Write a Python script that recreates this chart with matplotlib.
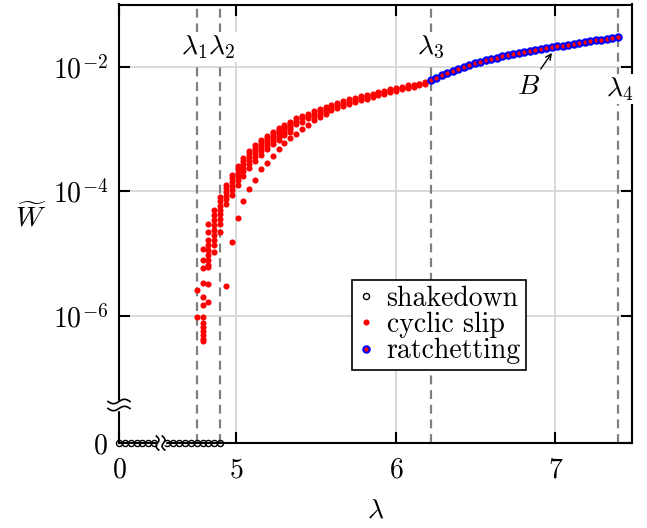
import numpy as np
import matplotlib
matplotlib.use("Agg")
import matplotlib.pyplot as plt
from matplotlib.lines import Line2D
from matplotlib.ticker import FixedLocator, FixedFormatter, NullLocator

plt.rcParams.update({
    "font.family": "serif",
    "font.serif": ["cmr10"],
    "mathtext.fontset": "cm",
    "axes.formatter.use_mathtext": True,
    "font.size": 20,
})

# ---------------- data ----------------
shake_lam = [0.0, 0.0368, 0.0735, 0.1103, 0.147, 0.1838, 0.2205,
             4.566, 4.603, 4.640, 4.677, 4.713, 4.750, 4.787, 4.824, 4.860, 4.897]
shake_W = [0.0] * len(shake_lam)

slip_lam = [4.750, 4.787, 4.824, 4.860, 4.897, 4.934, 4.971, 5.007, 5.044, 5.081,
            5.118, 5.154, 5.191, 5.228, 5.265, 5.301, 5.338, 5.375, 5.412, 5.448,
            5.485, 5.522, 5.559, 5.595, 5.632, 5.669, 5.706, 5.742, 5.779, 5.816,
            5.853, 5.889, 5.926, 5.963, 6.000, 6.036, 6.073, 6.110, 6.147, 6.183]

slip_log10W = [
    [-5.58, -6.02],
    [-4.92, -5.10, -5.23, -5.47, -5.69, -5.82, -6.01, -6.11, -6.17, -6.24, -6.30, -6.37, -6.41],
    [-4.52, -4.66, -4.78, -4.86, -4.94, -5.02, -5.10, -5.18, -5.21, -5.48, -5.77],
    [-4.30, -4.38, -4.46, -4.54, -4.62, -4.70, -4.78, -4.86, -4.97],
    [-4.09, -4.16, -4.23, -4.30, -4.37, -4.44, -4.52, -4.65],
    [-3.89, -3.95, -4.01, -4.07, -4.13, -4.20, -5.52],
    [-3.73, -3.79, -3.85, -3.91, -3.98, -4.06, -4.81],
    [-3.59, -3.64, -3.70, -3.76, -3.82, -3.90, -4.42],
    [-3.46, -3.51, -3.56, -3.62, -3.68, -3.76, -4.15],
    [-3.35, -3.40, -3.45, -3.50, -3.56, -3.63, -3.96],
    [-3.25, -3.30, -3.34, -3.39, -3.45, -3.51, -3.81],
    [-3.17, -3.21, -3.25, -3.30, -3.35, -3.41, -3.64],
    [-3.11, -3.14, -3.18, -3.22, -3.27, -3.32, -3.54],
    [-3.04, -3.07, -3.11, -3.15, -3.19, -3.24, -3.43],
    [-2.98, -3.01, -3.05, -3.08, -3.12, -3.17, -3.32],
    [-2.93, -2.96, -2.99, -3.02, -3.06, -3.10, -3.22],
    [-2.88, -2.91, -2.94, -2.97, -3.00, -3.04, -3.15],
    [-2.83, -2.87, -2.92, -3.08],
    [-2.79, -2.83, -2.88, -3.00],
    [-2.75, -2.79, -2.83, -2.93],
    [-2.71, -2.75, -2.79, -2.86],
    [-2.67, -2.71, -2.75, -2.80],
    [-2.64, -2.68, -2.72, -2.75],
    [-2.61, -2.65, -2.70],
    [-2.58, -2.62, -2.66],
    [-2.55, -2.59, -2.63],
    [-2.52, -2.56, -2.60],
    [-2.50, -2.53, -2.57],
    [-2.47, -2.50, -2.54],
    [-2.45, -2.48, -2.51],
    [-2.43, -2.46, -2.49],
    [-2.40, -2.43, -2.46],
    [-2.39, -2.41, -2.44],
    [-2.36, -2.38, -2.41],
    [-2.34, -2.36, -2.39],
    [-2.32, -2.34, -2.36],
    [-2.30, -2.32, -2.34],
    [-2.29, -2.30, -2.32],
    [-2.27, -2.28, -2.30],
    [-2.25, -2.26, -2.27],
]

ratch_lam = [6.220, 6.254, 6.289, 6.323, 6.358, 6.392, 6.426, 6.461, 6.495, 6.530,
             6.564, 6.598, 6.633, 6.667, 6.702, 6.736, 6.770, 6.805, 6.839, 6.874,
             6.908, 6.942, 6.977, 7.011, 7.046, 7.080, 7.114, 7.149, 7.183, 7.218,
             7.252, 7.286, 7.321, 7.355, 7.390]
ratch_log10W = [-2.210, -2.172, -2.134, -2.099, -2.064, -2.032, -2.002, -1.972, -1.946, -1.921,
                -1.898, -1.876, -1.853, -1.831, -1.811, -1.792, -1.773, -1.758, -1.743, -1.729,
                -1.716, -1.703, -1.690, -1.674, -1.659, -1.644, -1.631, -1.618, -1.605, -1.591,
                -1.577, -1.563, -1.548, -1.534, -1.520]

crit_lam = [4.750, 4.897, 6.220, 7.390]
crit_labels = [r"$\lambda_1$", r"$\lambda_2$", r"$\lambda_3$", r"$\lambda_4$"]

x_ticks = [0, 5, 6, 7]
x_ticklabels = [r"$0$", r"$5$", r"$6$", r"$7$"]
y_ticks = [0.0, 1e-6, 1e-4, 1e-2]
y_ticklabels = [r"$0$", r"$10^{-6}$", r"$10^{-4}$", r"$10^{-2}$"]

# flatten slip data
slip_x, slip_W = [], []
for lam, col in zip(slip_lam, slip_log10W):
    for v in col:
        slip_x.append(lam)
        slip_W.append(10.0 ** v)
ratch_W = [10.0 ** v for v in ratch_log10W]

# ---------------- broken scales ----------------
XB = [0.0, 0.235, 4.5, 10.0]
XF = [0.0, 0.235, 0.2366, 5.7366]
def xfwd(x):
    return np.interp(np.asarray(x, float), XB, XF)
def xinv(u):
    return np.interp(np.asarray(u, float), XF, XB)

Y0 = -8.04
def yfwd(y):
    y = np.asarray(y, float)
    safe = np.where(y > 0, y, 1.0)
    with np.errstate(divide="ignore", invalid="ignore"):
        return np.where(y > 10 ** Y0, np.log10(safe), Y0)
def yinv(v):
    return 10.0 ** np.asarray(v, float)

W, H = 647, 528
fig = plt.figure(figsize=(W / 100, H / 100), dpi=100)
L, R, T, B = 119, 632, 4.5, 443
ax = fig.add_axes([L / W, 1 - B / H, (R - L) / W, (B - T) / H])
ax.set_xscale("function", functions=(xfwd, xinv))
ax.set_yscale("function", functions=(yfwd, yinv))
ax.set_xlim(0, 7.48)
ax.set_ylim(0, 0.1)

ax.xaxis.set_major_locator(FixedLocator(x_ticks))
ax.xaxis.set_major_formatter(FixedFormatter(x_ticklabels))
ax.yaxis.set_major_locator(FixedLocator(y_ticks))
ax.yaxis.set_major_formatter(FixedFormatter(y_ticklabels))
ax.xaxis.set_minor_locator(NullLocator())
ax.yaxis.set_minor_locator(NullLocator())

for s in ax.spines.values():
    s.set_linewidth(1.5)
ax.tick_params(which="major", direction="in", length=8, width=1.5,
               top=True, right=True, labelsize=20)
ax.tick_params(axis="x", pad=10)
ax.tick_params(axis="y", pad=8)

ax.grid(True, color="#d9d9d9", lw=1.4, zorder=0)
ax.set_axisbelow(True)

# critical lines
for lam in crit_lam:
    ax.axvline(lam, color="#808080", lw=1.6, ls=(0, (4, 2.6)), zorder=1.5)

label_y = [0.903, 0.903, 0.903, 0.808]
label_dx = [-0.014, 0.012, 0.0, 0.01]
for lam, lab, yy, dx in zip(crit_lam, crit_labels, label_y, label_dx):
    ax.text(lam + dx, yy, lab, transform=ax.get_xaxis_transform(),
            ha="center", va="center", fontsize=20, zorder=5,
            bbox=dict(fc="white", ec="none", pad=0.8))

# data
h1, = ax.plot(shake_lam, shake_W, "o", mfc="none", mec="k", ms=4.4, mew=1.0,
              clip_on=False, zorder=4, label="shakedown")
h2, = ax.plot(slip_x, slip_W, "o", color="red", ms=4.4, mew=0, zorder=3,
              label="cyclic slip")
h3, = ax.plot(ratch_lam, ratch_W, "o", mfc="red", mec="blue", ms=4.6, mew=1.5,
              zorder=4, label="ratchetting")

# B annotation
B_tip = (6.978, 0.0167)
B_txt = (6.828, 0.0047)
ax.annotate(r"$B$", xy=B_tip, xytext=B_txt, ha="center", va="center", fontsize=20,
            arrowprops=dict(arrowstyle="->", lw=1.0, color="k", shrinkA=2, shrinkB=0,
                            mutation_scale=10), zorder=6)

leg = ax.legend(handles=[h1, h2, h3], loc="lower left",
                bbox_to_anchor=(0.454, 0.1665), borderaxespad=0,
                fancybox=False, edgecolor="k", framealpha=1, fontsize=20,
                handlelength=0.6, handletextpad=0.45, borderpad=0.2,
                labelspacing=0.0)
leg.get_frame().set_linewidth(1.2)
leg.set_zorder(7)

ax.set_xlabel(r"$\lambda$", fontsize=20)
ax.xaxis.set_label_coords(0.5, -0.153)
ax.xaxis.label.set_va("center")
ax.set_ylabel(r"$\widetilde{W}$", rotation=0, fontsize=20)
ax.yaxis.set_label_coords((31 - L) / (R - L), (B - 218) / (B - T))
ax.yaxis.label.set_va("center")
ax.yaxis.label.set_ha("center")

# ---------------- break marks (decoration) ----------------
def fx(px):
    return px / W
def fy(py):
    return 1 - py / H

t = np.linspace(-1, 1, 40)
# y-axis break
fig.add_artist(Line2D([fx(L), fx(L)], [fy(401.5), fy(408.5)], color="white",
                      lw=2.5, transform=fig.transFigure, zorder=10))
for yc in (401.5, 408.5):
    xs = L + 11 * t
    ys = yc - 2.2 * np.sin(np.pi * t)
    fig.add_artist(Line2D(fx(xs), fy(ys), color="k", lw=1.2,
                          transform=fig.transFigure, zorder=11))
# x-axis break
fig.add_artist(Line2D([fx(157.5), fx(163.5)], [fy(B), fy(B)], color="white",
                      lw=2.5, transform=fig.transFigure, zorder=10))
for xc in (157.5, 163.5):
    ys = B + 7 * t
    xs = xc - 2.0 * np.sin(np.pi * t) + 1.2 * t
    fig.add_artist(Line2D(fx(xs), fy(ys), color="k", lw=1.2,
                          transform=fig.transFigure, zorder=11))

fig.savefig("out.png", dpi=100)
